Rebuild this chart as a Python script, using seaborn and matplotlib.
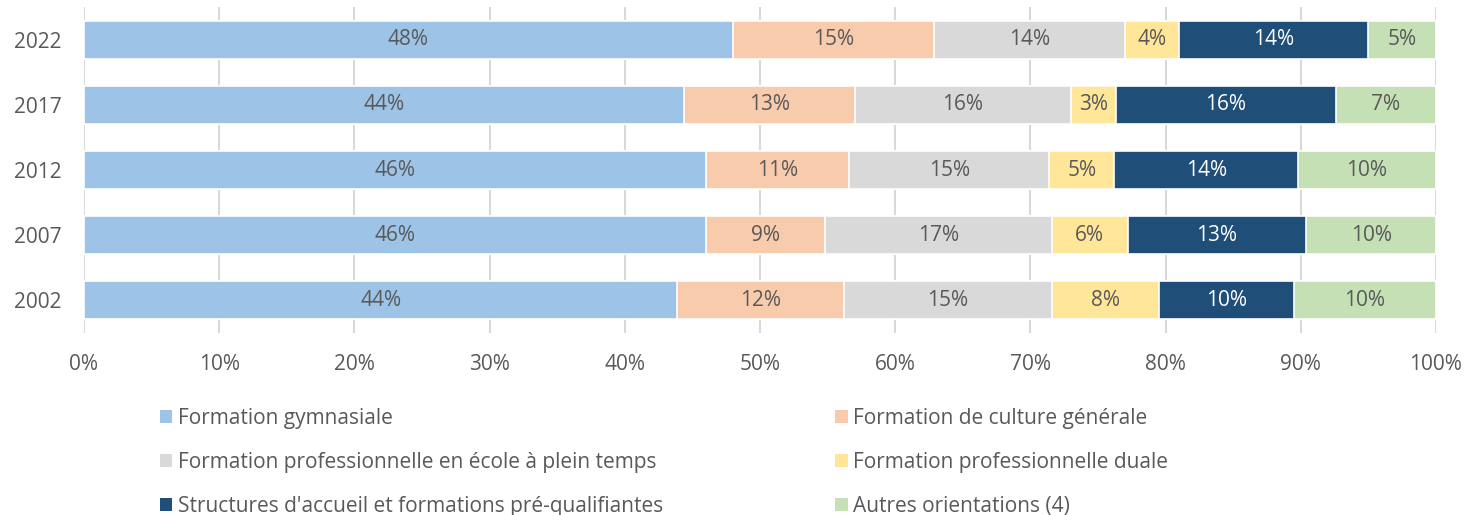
import numpy as np
import pandas as pd
import matplotlib
matplotlib.use("Agg")
import matplotlib.pyplot as plt
from matplotlib.patches import Patch
import seaborn as sns

# Répartition des élèves par orientation (en %)
years = ["2022", "2017", "2012", "2007", "2002"]
gymnasiale = [48.0, 44.4, 46.0, 46.0, 43.9]
culture_generale = [14.9, 12.6, 10.6, 8.8, 12.3]
pro_plein_temps = [14.1, 16.0, 14.8, 16.8, 15.4]
pro_duale = [4.0, 3.3, 4.8, 5.6, 7.9]
structures_accueil = [14.0, 16.3, 13.6, 13.2, 10.0]
autres = [5.0, 7.4, 10.2, 9.6, 10.5]

series_names = [
    "Formation gymnasiale",
    "Formation de culture générale",
    "Formation professionnelle en école à plein temps",
    "Formation professionnelle duale",
    "Structures d'accueil et formations pré-qualifiantes",
    "Autres orientations (4)",
]
series_values = [gymnasiale, culture_generale, pro_plein_temps,
                 pro_duale, structures_accueil, autres]
colors = ["#9DC3E6", "#F8CBAD", "#D9D9D9", "#FFE699", "#1F4E79", "#C5E0B4"]
label_colors = ["#595959", "#595959", "#595959", "#595959", "#FFFFFF", "#595959"]
x_ticks = [0, 10, 20, 30, 40, 50, 60, 70, 80, 90, 100]

sns.set_theme(style="white")
plt.rcParams["font.family"] = ["Open Sans", "DejaVu Sans"]
text_grey = "#595959"
fs = 15

df = pd.DataFrame({"year": years})
for name, vals in zip(series_names, series_values):
    df[name] = vals
cum = df[series_names].cumsum(axis=1)

fig = plt.figure(figsize=(14.65, 5.15), dpi=100)
ax = fig.add_axes([0.0573, 0.3534, 0.9229, 0.6330])

# Stacked bars: draw cumulative totals from the last series back to the first
for i in range(len(series_names) - 1, -1, -1):
    sns.barplot(data=cum, x=series_names[i], y=df["year"], order=years,
                orient="h", color=colors[i], width=0.58, saturation=1,
                edgecolor="white", linewidth=1.2, ax=ax, zorder=2)

# Value labels at the centre of each segment
for i, name in enumerate(series_names):
    for j, yr in enumerate(years):
        v = df.loc[j, name]
        centre = cum.loc[j, name] - v / 2
        ax.text(centre, j, f"{v:.0f}%", ha="center", va="center",
                fontsize=fs, color=label_colors[i], zorder=3)

ax.set_xlim(0, 100)
ax.set_ylim(4.5, -0.5)
ax.set_xticks(x_ticks)
ax.set_xticklabels([f"{t}%" for t in x_ticks])
ax.set_xlabel("")
ax.set_ylabel("")
ax.grid(axis="x", color="#D9D9D9", linewidth=1.5, zorder=0)
ax.grid(axis="y", visible=False)
ax.set_axisbelow(True)
for sp in ax.spines.values():
    sp.set_visible(False)
ax.tick_params(axis="both", length=0, labelsize=fs, labelcolor=text_grey)
ax.tick_params(axis="x", pad=15)
ax.tick_params(axis="y", pad=16)

# Legend in two columns, filled row by row
handles = [Patch(facecolor=c, edgecolor="none") for c in colors]
left_idx = [0, 2, 4]
right_idx = [1, 3, 5]
for idx, xpos in ((left_idx, 0.1092), (right_idx, 0.570)):
    fig.legend([handles[k] for k in idx], [series_names[k] for k in idx],
               loc="upper left", bbox_to_anchor=(xpos, 0.208),
               frameon=False, fontsize=fs, labelcolor=text_grey,
               handlelength=0.6, handleheight=0.6, handletextpad=0.25,
               labelspacing=1.1, borderaxespad=0, borderpad=0)

fig.savefig("out.png", dpi=100)
